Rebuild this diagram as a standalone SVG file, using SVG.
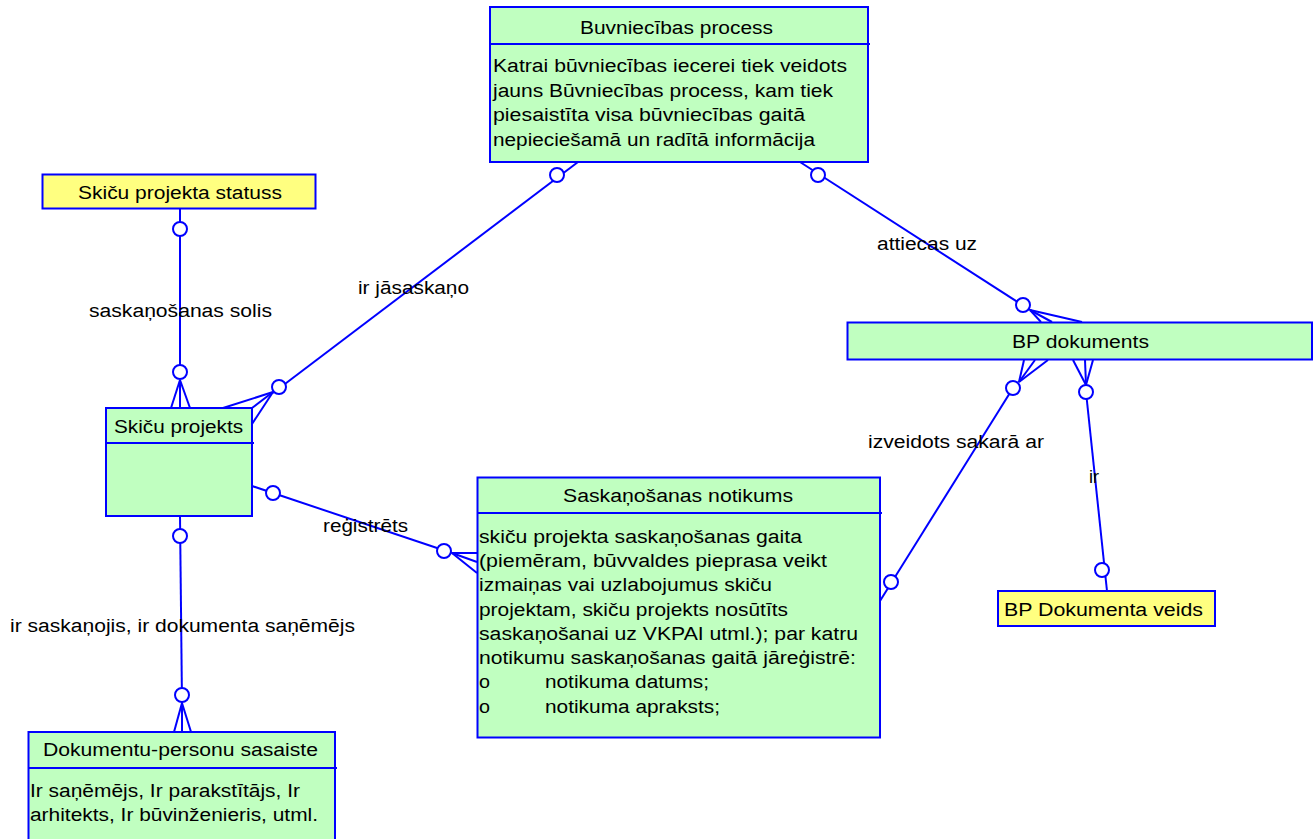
<svg xmlns="http://www.w3.org/2000/svg" width="1313" height="839" viewBox="0 0 1313 839">
<style>
.box{fill:#C0FFC0;stroke:#0000FF;stroke-width:2}
.ybox{fill:#FFFF80;stroke:#0000FF;stroke-width:2}
.div{stroke:#0000FF;stroke-width:2;fill:none}
.ln{stroke:#0000FF;stroke-width:2;fill:none}
.c{stroke:#0000FF;stroke-width:2;fill:#FFFFFF}
text{font-family:"Liberation Sans",Arial,sans-serif;font-size:18px;fill:#000000}
</style>
<rect width="1313" height="839" fill="#FFFFFF"/>
<g id="connectors">
  <!-- statuss -> Skiču projekts -->
  <line class="ln" x1="180" y1="209" x2="180" y2="365"/>
  <line class="ln" x1="180" y1="380" x2="171" y2="408"/>
  <line class="ln" x1="180" y1="380" x2="180" y2="408"/>
  <line class="ln" x1="180" y1="380" x2="190" y2="408"/>
  <ellipse class="c" cx="180" cy="229" rx="7" ry="7"/>
  <ellipse class="c" cx="180" cy="372" rx="7" ry="7"/>
  <text x="89" y="317" textLength="183" lengthAdjust="spacingAndGlyphs">saskaņošanas solis</text>
  <!-- Buvniecības -> Skiču projekts -->
  <line class="ln" x1="578" y1="162" x2="273" y2="393"/>
  <line class="ln" x1="273" y1="392" x2="223" y2="408"/>
  <line class="ln" x1="273" y1="392" x2="252" y2="408"/>
  <line class="ln" x1="273" y1="392" x2="252" y2="424"/>
  <ellipse class="c" cx="557" cy="175" rx="7" ry="7"/>
  <ellipse class="c" cx="279" cy="387" rx="7" ry="7"/>
  <text x="358" y="294" textLength="111" lengthAdjust="spacingAndGlyphs">ir jāsaskaņo</text>
  <!-- Buvniecības -> BP dokuments -->
  <line class="ln" x1="800" y1="162" x2="1030" y2="310"/>
  <line class="ln" x1="1030" y1="310" x2="1041" y2="322"/>
  <line class="ln" x1="1030" y1="310" x2="1052" y2="322"/>
  <line class="ln" x1="1030" y1="310" x2="1082" y2="322"/>
  <ellipse class="c" cx="818" cy="175" rx="7" ry="7"/>
  <ellipse class="c" cx="1023" cy="305" rx="7" ry="7"/>
  <text x="877" y="250" textLength="100" lengthAdjust="spacingAndGlyphs">attiecas uz</text>
  <!-- BP dokuments -> Saskaņošanas notikums -->
  <line class="ln" x1="1019" y1="382" x2="1024" y2="360"/>
  <line class="ln" x1="1019" y1="382" x2="1035" y2="360"/>
  <line class="ln" x1="1019" y1="382" x2="1048" y2="360"/>
  <line class="ln" x1="1013" y1="388" x2="880" y2="601"/>
  <ellipse class="c" cx="1013" cy="388" rx="7" ry="7"/>
  <ellipse class="c" cx="891" cy="582" rx="7" ry="7"/>
  <text x="868" y="448" textLength="176" lengthAdjust="spacingAndGlyphs">izveidots sakarā ar</text>
  <!-- BP dokuments -> BP Dokumenta veids -->
  <line class="ln" x1="1086" y1="385" x2="1073" y2="360"/>
  <line class="ln" x1="1086" y1="385" x2="1085" y2="360"/>
  <line class="ln" x1="1086" y1="385" x2="1093" y2="360"/>
  <line class="ln" x1="1086" y1="392" x2="1107" y2="591"/>
  <ellipse class="c" cx="1086" cy="392" rx="7" ry="7"/>
  <ellipse class="c" cx="1102" cy="570" rx="7" ry="7"/>
  <text x="1089" y="483" textLength="10" lengthAdjust="spacingAndGlyphs">ir</text>
  <!-- Skiču projekts -> Saskaņošanas notikums -->
  <line class="ln" x1="252" y1="486" x2="452" y2="553"/>
  <line class="ln" x1="452" y1="553" x2="477" y2="553"/>
  <line class="ln" x1="452" y1="553" x2="477" y2="562"/>
  <line class="ln" x1="452" y1="553" x2="477" y2="573"/>
  <ellipse class="c" cx="273" cy="493" rx="7" ry="7"/>
  <ellipse class="c" cx="444" cy="551" rx="7" ry="7"/>
  <text x="323" y="532" textLength="85" lengthAdjust="spacingAndGlyphs">reģistrēts</text>
  <!-- Skiču projekts -> Dokumentu-personu sasaiste -->
  <line class="ln" x1="180" y1="516" x2="182" y2="703"/>
  <line class="ln" x1="182" y1="703" x2="174" y2="732"/>
  <line class="ln" x1="182" y1="703" x2="182" y2="732"/>
  <line class="ln" x1="182" y1="703" x2="191" y2="732"/>
  <ellipse class="c" cx="180" cy="536" rx="7" ry="7"/>
  <ellipse class="c" cx="182" cy="695" rx="7" ry="7"/>
  <text x="10" y="632" textLength="345" lengthAdjust="spacingAndGlyphs">ir saskaņojis, ir dokumenta saņēmējs</text>
</g>
<g id="buvniecibas-process">
  <rect class="box" x="490" y="7" width="378" height="155"/>
  <line class="div" x1="490" y1="44" x2="870" y2="44"/>
  <text x="580" y="34" textLength="193" lengthAdjust="spacingAndGlyphs">Buvniecības process</text>
  <text x="493" y="72" textLength="354" lengthAdjust="spacingAndGlyphs">Katrai būvniecības iecerei tiek veidots</text>
  <text x="493" y="96.5" textLength="340" lengthAdjust="spacingAndGlyphs">jauns Būvniecības process, kam tiek</text>
  <text x="493" y="121" textLength="312" lengthAdjust="spacingAndGlyphs">piesaistīta visa būvniecības gaitā</text>
  <text x="493" y="145.5" textLength="322" lengthAdjust="spacingAndGlyphs">nepieciešamā un radītā informācija</text>
</g>
<g id="skicu-projekta-statuss">
  <rect class="ybox" x="42.5" y="174.5" width="273" height="34"/>
  <text x="78" y="199" textLength="204" lengthAdjust="spacingAndGlyphs">Skiču projekta statuss</text>
</g>
<g id="skicu-projekts">
  <rect class="box" x="106" y="408" width="146" height="108"/>
  <line class="div" x1="106" y1="443" x2="254" y2="443"/>
  <text x="114" y="433" textLength="129" lengthAdjust="spacingAndGlyphs">Skiču projekts</text>
</g>
<g id="bp-dokuments">
  <rect class="box" x="847.5" y="322.5" width="464.5" height="37"/>
  <text x="1012" y="348" textLength="137" lengthAdjust="spacingAndGlyphs">BP dokuments</text>
</g>
<g id="saskanosanas-notikums">
  <rect class="box" x="477.5" y="477.5" width="402.5" height="260"/>
  <line class="div" x1="477.5" y1="513" x2="882" y2="513"/>
  <text x="563" y="502" textLength="230" lengthAdjust="spacingAndGlyphs">Saskaņošanas notikums</text>
  <text x="479" y="543" textLength="323" lengthAdjust="spacingAndGlyphs">skiču projekta saskaņošanas gaita</text>
  <text x="479" y="567" textLength="348" lengthAdjust="spacingAndGlyphs">(piemēram, būvvaldes pieprasa veikt</text>
  <text x="479" y="591" textLength="293" lengthAdjust="spacingAndGlyphs">izmaiņas vai uzlabojumus skiču</text>
  <text x="479" y="615.5" textLength="309" lengthAdjust="spacingAndGlyphs">projektam, skiču projekts nosūtīts</text>
  <text x="479" y="640" textLength="379" lengthAdjust="spacingAndGlyphs">saskaņošanai uz VKPAI utml.); par katru</text>
  <text x="479" y="664" textLength="377" lengthAdjust="spacingAndGlyphs">notikumu saskaņošanas gaitā jāreģistrē:</text>
  <text x="479" y="688" textLength="11" lengthAdjust="spacingAndGlyphs">o</text>
  <text x="545" y="688" textLength="164" lengthAdjust="spacingAndGlyphs">notikuma datums;</text>
  <text x="479" y="713" textLength="11" lengthAdjust="spacingAndGlyphs">o</text>
  <text x="545" y="713" textLength="175" lengthAdjust="spacingAndGlyphs">notikuma apraksts;</text>
</g>
<g id="bp-dokumenta-veids">
  <rect class="ybox" x="998" y="591" width="217" height="35"/>
  <text x="1004" y="616" textLength="199" lengthAdjust="spacingAndGlyphs">BP Dokumenta veids</text>
</g>
<g id="dokumentu-personu-sasaiste">
  <rect class="box" x="28.5" y="732" width="306.5" height="120"/>
  <line class="div" x1="28.5" y1="768" x2="337" y2="768"/>
  <text x="43" y="756" textLength="275" lengthAdjust="spacingAndGlyphs">Dokumentu-personu sasaiste</text>
  <text x="30" y="797" textLength="270" lengthAdjust="spacingAndGlyphs">Ir saņēmējs, Ir parakstītājs, Ir</text>
  <text x="30" y="821" textLength="288" lengthAdjust="spacingAndGlyphs">arhitekts, Ir būvinženieris, utml.</text>
</g>
</svg>
